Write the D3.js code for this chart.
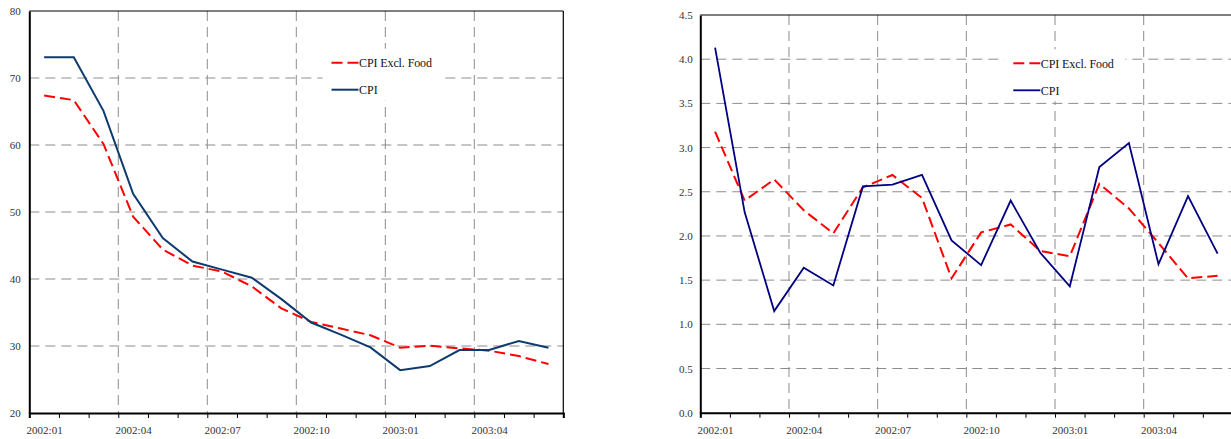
<!DOCTYPE html>
<html>
<head>
<meta charset="utf-8">
<script src="https://cdn.jsdelivr.net/npm/d3@7"></script>
<style>
  html, body { margin: 0; padding: 0; background: #fff; }
  svg { display: block; }
</style>
</head>
<body>
<svg id="chart" width="1231" height="439"></svg>
<script>
// ---- data ----
const months = ["2002:01","2002:02","2002:03","2002:04","2002:05","2002:06","2002:07","2002:08","2002:09",
                "2002:10","2002:11","2002:12","2003:01","2003:02","2003:03","2003:04","2003:05","2003:06"];
const tickLabels = ["2002:01","2002:04","2002:07","2002:10","2003:01","2003:04"];
const seriesNames = ["CPI Excl. Food", "CPI"];

// left panel (level)
const cpiLeft  = [73.1, 73.1, 65.1, 52.7, 46.1, 42.6, 41.4, 40.2, 37.0, 33.5, 31.7, 29.8, 26.4, 27.0, 29.4, 29.4, 30.75, 29.75];
const exclLeft = [67.4, 66.7, 60.15, 49.3, 44.4, 42.0, 41.1, 38.9, 35.6, 33.6, 32.6, 31.6, 29.75, 30.05, 29.65, 29.3, 28.5, 27.3];
const leftYTicks = [20, 30, 40, 50, 60, 70, 80];

// right panel (rate)
const cpiRight  = [4.13, 2.27, 1.15, 1.64, 1.44, 2.56, 2.58, 2.69, 1.95, 1.67, 2.40, 1.81, 1.43, 2.78, 3.05, 1.68, 2.45, 1.80];
const exclRight = [3.18, 2.40, 2.64, 2.29, 2.03, 2.55, 2.69, 2.43, 1.52, 2.04, 2.13, 1.83, 1.77, 2.59, 2.31, 1.92, 1.52, 1.55];
const rightYTicks = [0.0, 0.5, 1.0, 1.5, 2.0, 2.5, 3.0, 3.5, 4.0, 4.5];

// ---- drawing ----
const svg = d3.select("#chart");
const FONT = "'Liberation Serif', 'Times New Roman', serif";
const nPeriods = months.length;

function panel(cfg) {
  const g = svg.append("g");
  const x = d3.scaleLinear().domain([0, nPeriods]).range([cfg.x0, cfg.x1]);
  const y = d3.scaleLinear().domain([cfg.yTicks[0], cfg.yTicks[cfg.yTicks.length - 1]]).range([cfg.yBottom, cfg.yTop]);
  const majors = d3.range(0, nPeriods + 1, 3);

  // horizontal grid
  g.append("g").selectAll("line")
    .data(cfg.yTicks.slice(1, -1)).join("line")
    .attr("x1", cfg.x0).attr("x2", cfg.x1)
    .attr("y1", d => y(d)).attr("y2", d => y(d))
    .attr("stroke", "#8c8c8c").attr("stroke-width", 1)
    .attr("stroke-dasharray", "10,6");
  // vertical grid
  g.append("g").selectAll("line")
    .data(majors.slice(1, -1)).join("line")
    .attr("x1", d => x(d)).attr("x2", d => x(d))
    .attr("y1", cfg.yTop).attr("y2", cfg.yBottom)
    .attr("stroke", "#8c8c8c").attr("stroke-width", 1)
    .attr("stroke-dasharray", "10,6");

  // frame top / right
  g.append("line").attr("x1", cfg.x0).attr("x2", cfg.x1).attr("y1", cfg.yTop).attr("y2", cfg.yTop)
    .attr("stroke", "#000").attr("stroke-width", 1.2);
  g.append("line").attr("x1", cfg.x1).attr("x2", cfg.x1).attr("y1", cfg.yTop).attr("y2", cfg.yBottom)
    .attr("stroke", "#000").attr("stroke-width", 1.2);

  // x axis: month tick marks
  const xAxis = d3.axisBottom(x)
    .tickValues(d3.range(0, nPeriods + 1))
    .tickSize(5).tickFormat(() => "");
  const gx = g.append("g").attr("transform", `translate(0,${cfg.yBottom})`).call(xAxis);
  gx.select(".domain").attr("stroke", "#000").attr("stroke-width", 2);
  gx.selectAll(".tick line").attr("stroke", "#000").attr("stroke-width", 1);

  // x axis: category labels centred in their month
  const labelPos = tickLabels.map(l => months.indexOf(l) + 0.5);
  const xLab = d3.axisBottom(x)
    .tickValues(labelPos).tickSize(0).tickPadding(13.5)
    .tickFormat(d => months[Math.floor(d)]);
  const gl = g.append("g").attr("transform", `translate(0,${cfg.yBottom})`).call(xLab);
  gl.select(".domain").remove();
  gl.selectAll("text").attr("font-family", FONT).attr("font-size", 11).attr("fill", "#333");

  // y axis
  const yAxis = d3.axisLeft(y).tickValues(cfg.yTicks).tickSize(0).tickPadding(cfg.yPad)
    .tickFormat(cfg.fmt);
  const gy = g.append("g").attr("transform", `translate(${cfg.x0},0)`).call(yAxis);
  gy.select(".domain").attr("stroke", "#000").attr("stroke-width", 2);
  gy.selectAll("text").attr("font-family", FONT).attr("font-size", 11).attr("fill", "#333");

  // lines
  const line = vals => d3.line().x((d, i) => x(i + 0.5)).y(d => y(d))(vals);
  g.append("path").attr("d", line(cfg.excl))
    .attr("fill", "none").attr("stroke", "#ff0000").attr("stroke-width", 2)
    .attr("stroke-dasharray", "11,5");
  g.append("path").attr("d", line(cfg.cpi))
    .attr("fill", "none").attr("stroke", cfg.cpiColor).attr("stroke-width", cfg.cpiWidth);

  // legend
  const lg = g.append("g");
  lg.append("rect").attr("x", cfg.legX - 9).attr("y", cfg.legY - 14)
    .attr("width", 121).attr("height", 52).attr("fill", "#fff");
  const items = [
    {name: seriesNames[0], color: "#ff0000", dash: "11,5", w: 2},
    {name: seriesNames[1], color: cfg.cpiColor, dash: null, w: cfg.cpiWidth}
  ];
  items.forEach((it, i) => {
    const yy = cfg.legY + i * 27;
    lg.append("line").attr("x1", cfg.legX).attr("x2", cfg.legX + 27)
      .attr("y1", yy).attr("y2", yy)
      .attr("stroke", it.color).attr("stroke-width", it.w)
      .attr("stroke-dasharray", it.dash);
    lg.append("text").attr("x", cfg.legX + 27.5).attr("y", yy).attr("dy", "0.35em")
      .attr("font-family", FONT).attr("font-size", 12).attr("fill", "#111")
      .attr("textLength", i === 0 ? 73 : null)
      .text(it.name);
  });
}

panel({
  x0: 29.3, x1: 563.3, yTop: 11, yBottom: 413,
  yTicks: leftYTicks, fmt: d3.format("d"), yPad: 8.5,
  cpi: cpiLeft, excl: exclLeft, cpiColor: "#0d3b6e", cpiWidth: 2,
  legX: 331.5, legY: 62.7
});

panel({
  x0: 700.3, x1: 700.3 + 18 * 29.56, yTop: 15, yBottom: 412.7,
  yTicks: rightYTicks, fmt: d3.format(".1f"), yPad: 7.5,
  cpi: cpiRight, excl: exclRight, cpiColor: "#000080", cpiWidth: 1.8,
  legX: 1013.3, legY: 63.3
});
</script>
</body>
</html>
